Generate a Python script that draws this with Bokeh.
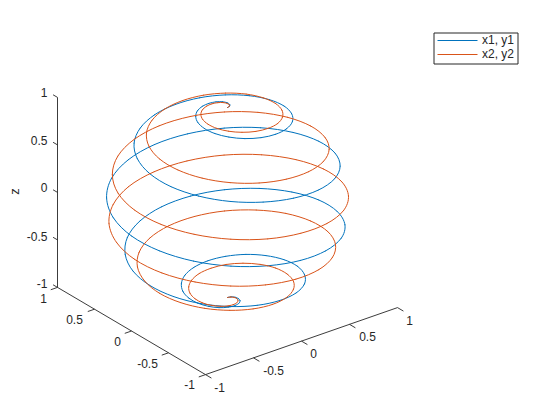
from bokeh.plotting import figure
from bokeh.models import Range1d, Legend, LegendItem
from bokeh.core.properties import value
from bokeh.embed import file_html
from bokeh.resources import INLINE
import numpy as np

x1 = [0,.030,.051,.055,.039,0,-.058,-.128,-.201,-.265,-.309,-.322,-.298,-.233,-.132,0,.149,.299,.434,.534,
      .588,.583,.515,.389,.212,0,-.225,-.441,-.624,-.751,-.809,-.787,-.683,-.506,-.271,0,.280,.540,.752,.895,
      .951,.913,.784,.574,.303,0,-.307,-.585,-.807,-.950,-1,
      -.950,-.807,-.585,-.307,0,.303,.574,.784,.913,.951,
      .895,.752,.540,.280,0,-.271,-.506,-.683,-.787,-.809,-.751,-.624,-.441,-.225,0,.212,.389,.515,.583,.588,
      .534,.434,.299,.149,0,-.132,-.233,-.298,-.322,-.309,-.265,-.201,-.128,-.058,0,.039,.055,.051,.030,0]
y1 = [0,.010,.037,.076,.119,.156,.178,.176,.146,.086,0,-.105,-.216,-.321,-.405,-.454,-.458,-.412,-.315,-.174,
      0,.189,.374,.535,.651,.707,.693,.607,.453,.244,0,-.256,-.496,-.697,-.833,-.891,-.861,-.743,-.547,-.291,
      0,.297,.570,.790,.934,.988,.943,.806,.587,.309,0,
      -.309,-.587,-.806,-.943,-.988,-.934,-.790,-.570,-.297,0,
      .291,.547,.743,.861,.891,.833,.697,.496,.256,0,-.244,-.453,-.607,-.693,-.707,-.651,-.535,-.374,-.189,0,
      .174,.315,.412,.458,.454,.405,.321,.216,.105,0,-.086,-.146,-.176,-.178,-.156,-.119,-.076,-.037,-.010,0]
z1 = [1,.999,.998,.996,.992,.988,.982,.976,.969,.960,.951,.941,.930,.918,.905,.891,.876,.861,.844,.827,
      .809,.790,.771,.750,.729,.707,.685,.661,.637,.613,.588,.562,.536,.509,.482,.454,.426,.397,.368,.339,
      .309,.279,.249,.218,.187,.156,.125,.094,.063,.031,0,
      -.031,-.063,-.094,-.125,-.156,-.187,-.218,-.249,-.279,-.309,
      -.339,-.368,-.397,-.426,-.454,-.482,-.509,-.536,-.562,-.588,-.613,-.637,-.661,-.685,-.707,-.729,-.750,-.771,-.790,-.809,
      -.827,-.844,-.861,-.876,-.891,-.905,-.918,-.930,-.941,-.951,-.960,-.969,-.976,-.982,-.988,-.992,-.996,-.998,-.999,-1]

x2 = [0,.025,.042,.046,.032,0,-.048,-.107,-.168,-.222,-.259,-.270,-.250,-.196,-.111,0,.126,.253,.367,.454,
      .500,.496,.441,.333,.182,0,-.194,-.381,-.541,-.654,-.707,-.689,-.601,-.447,-.240,0,.250,.484,.679,.811,
      .866,.836,.721,.530,.282,0,-.289,-.554,-.769,-.912,-.966,-.924,-.791,-.578,-.305,0,.307,.586,.808,.951,1,
      .951,.808,.586,.307,0,-.305,-.578,-.791,-.924,-.966,-.912,-.769,-.554,-.289,0,.282,.530,.721,.836,.866,
      .811,.679,.484,.250,0,-.240,-.447,-.601,-.689,-.707,-.654,-.541,-.381,-.194,0,.182,.333,.441,.496,.500,
      .454,.367,.253,.126,0,-.111,-.196,-.250,-.270,-.259,-.222,-.168,-.107,-.048,0,.032,.046,.042,.025,0]
y2 = [0,.008,.031,.063,.100,.131,.148,.147,.122,.072,0,-.088,-.182,-.270,-.340,-.383,-.387,-.349,-.267,-.147,
      0,.161,.320,.458,.559,.609,.598,.525,.393,.213,0,-.224,-.437,-.615,-.739,-.793,-.769,-.667,-.493,-.264,
      0,.272,.524,.730,.869,.924,.888,.763,.559,.296,0,-.300,-.575,-.795,-.940,-.991,-.946,-.807,-.587,-.309,0,
      .309,.587,.807,.946,.991,.940,.795,.575,.300,0,-.296,-.559,-.763,-.888,-.924,-.869,-.730,-.524,-.272,0,
      .264,.493,.667,.769,.793,.739,.615,.437,.224,0,-.213,-.393,-.525,-.598,-.609,-.559,-.458,-.320,-.161,0,
      .147,.267,.349,.387,.383,.340,.270,.182,.088,0,-.072,-.122,-.147,-.148,-.131,-.100,-.063,-.031,-.008,0]
z2 = [1,1.0,.999,.997,.995,.991,.988,.983,.978,.972,.966,.959,.951,.943,.934,.924,.914,.902,.891,.879,
      .866,.853,.839,.824,.809,.793,.777,.760,.743,.725,.707,.688,.669,.649,.629,.609,.588,.566,.545,.522,
      .500,.477,.454,.431,.407,.383,.358,.334,.309,.284,.259,.233,.208,.182,.156,.131,.105,.078,.052,.026,0,
      -.026,-.052,-.078,-.105,-.131,-.156,-.182,-.208,-.233,-.259,-.284,-.309,-.334,-.358,-.383,-.407,-.431,-.454,-.477,-.500,
      -.522,-.545,-.566,-.588,-.609,-.629,-.649,-.669,-.688,-.707,-.725,-.743,-.760,-.777,-.793,-.809,-.824,-.839,-.853,-.866,
      -.879,-.891,-.902,-.914,-.924,-.934,-.943,-.951,-.959,-.966,-.972,-.978,-.983,-.988,-.991,-.995,-.997,-.999,-1.0,-1]

ticks = [-1, -0.5, 0, 0.5, 1]
tick_labels = ["-1", "-0.5", "0", "0.5", "1"]
series_names = ["x1, y1", "x2, y2"]
z_label = "z"

BLUE, ORANGE, AXIS = "#0072BD", "#D95319", "#262626"
CX, CY = 227.0, 202.0
EX, EY, EZ = (96.0, -33.5), (-74.0, -43.6), 95.0

def proj(x, y, z):
    x, y, z = np.asarray(x, float), np.asarray(y, float), np.asarray(z, float)
    return CX + x * EX[0] + y * EY[0], CY + x * EX[1] + y * EY[1] - z * EZ

p = figure(width=544, height=404, x_range=Range1d(0, 544), y_range=Range1d(404, 0),
           output_backend="svg", toolbar_location=None, min_border=0,
           x_axis_type=None, y_axis_type=None, outline_line_color=None)
p.grid.visible = False

def seg(a, b):
    sx, sy = proj([a[0], b[0]], [a[1], b[1]], [a[2], b[2]])
    p.line(sx, sy, line_color=AXIS, line_width=0.9)

seg((-1, 1, -1), (-1, 1, 1))
seg((-1, 1, -1), (-1, -1, -1))
seg((-1, -1, -1), (1, -1, -1))
for t in ticks:
    seg((-1, 1, t), (-1, 1.06, t))
    seg((-1, t, -1), (-1.07, t, -1))
    seg((t, -1, -1), (t, -1.08, -1))

def smooth(sx, sy, color):
    # Pass a smooth stroke through the read points (Catmull-Rom handles as Bezier glyphs)
    px = np.concatenate(([sx[0]], sx, [sx[-1]]))
    py = np.concatenate(([sy[0]], sy, [sy[-1]]))
    cx0 = px[1:-2] + (px[2:-1] - px[:-3]) / 6
    cy0 = py[1:-2] + (py[2:-1] - py[:-3]) / 6
    cx1 = px[2:-1] - (px[3:] - px[1:-2]) / 6
    cy1 = py[2:-1] - (py[3:] - py[1:-2]) / 6
    p.bezier(x0=sx[:-1], y0=sy[:-1], x1=sx[1:], y1=sy[1:], cx0=cx0, cy0=cy0, cx1=cx1, cy1=cy1,
             line_color=color, line_width=1.0, line_cap="round")

sx1, sy1 = proj(x1, y1, z1)
sx2, sy2 = proj(x2, y2, z2)
smooth(sx1, sy1, BLUE)
smooth(sx2, sy2, ORANGE)

z_pos = [(47, 283), (47, 236), (47, 187), (47, 140), (47, 92)]
y_pos = [(189, 384), (147, 363), (117, 341), (74, 319), (43, 298)]
x_pos = [(219, 387), (273, 370), (313, 353), (367, 336), (409, 320)]
FONT = value("Liberation Sans")
for (px, py), s in zip(z_pos, tick_labels):
    p.text([px], [py], text=[s], text_align="right", text_baseline="middle",
           text_font=FONT, text_font_size="12px", text_color=AXIS)
for (px, py), s in zip(y_pos + x_pos, tick_labels + tick_labels):
    p.text([px], [py], text=[s], text_align="center", text_baseline="middle",
           text_font=FONT, text_font_size="12px", text_color=AXIS)
p.text([14], [191], text=[z_label], angle=[np.pi / 2], text_align="center", text_baseline="middle",
       text_font=FONT, text_font_size="13px", text_color=AXIS)

# legend frame and key lines sit under a transparent Bokeh legend that carries the labels
p.quad(left=[433.5], right=[517.5], top=[32.5], bottom=[63.5], fill_color="white",
       line_color=AXIS, line_width=1)
p.line([437, 477], [40, 40], line_color=BLUE, line_width=1.2)
p.line([437, 477], [54, 54], line_color=ORANGE, line_width=1.2)
k1 = p.line([], [], line_color=BLUE, line_width=1)
k2 = p.line([], [], line_color=ORANGE, line_width=1)

legend = Legend(items=[LegendItem(label=series_names[0], renderers=[k1]),
                       LegendItem(label=series_names[1], renderers=[k2])],
                location=(436, 343), orientation="vertical", margin=0, padding=2, spacing=-1,
                glyph_width=42, glyph_height=14, label_standoff=4, label_height=14,
                label_text_font="Liberation Sans", label_text_font_size="12px", label_text_color=AXIS,
                border_line_color=None, background_fill_alpha=0)
p.add_layout(legend, "center")

open("out.html", "w").write(file_html(p, INLINE))
